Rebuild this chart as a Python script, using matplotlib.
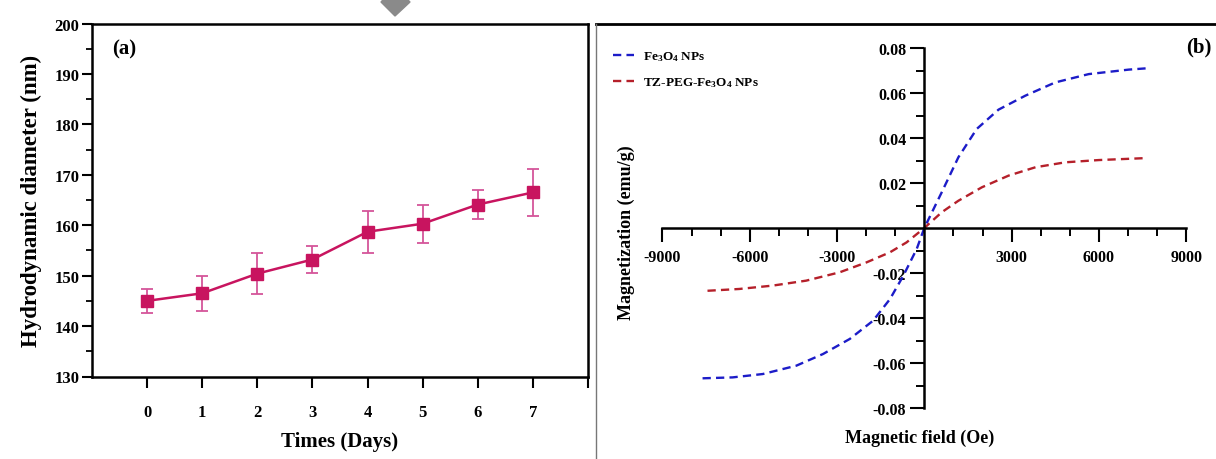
import matplotlib
matplotlib.use("Agg")
import matplotlib.pyplot as plt
from matplotlib.patches import Polygon
from matplotlib.lines import Line2D
from matplotlib.ticker import FixedLocator, NullFormatter

plt.rcParams['font.family'] = ['Liberation Serif', 'DejaVu Serif']
plt.rcParams['font.weight'] = 'bold'
plt.rcParams['mathtext.fontset'] = 'custom'
plt.rcParams['mathtext.rm'] = 'Liberation Serif:bold'
plt.rcParams['mathtext.default'] = 'rm'

# (a) hydrodynamic diameter over time
days = [0, 1, 2, 3, 4, 5, 6, 7]
diameter = [145.0, 146.5, 150.4, 153.2, 158.7, 160.3, 164.1, 166.5]
diameter_err = [2.4, 3.5, 4.1, 2.7, 4.2, 3.8, 2.8, 4.7]

# (b) magnetization curves
field_fe = [-7620, -6590, -5550, -4400, -3480, -2560, -1760, -1180, -720, -260,
            0, 600, 1170, 1800, 2550, 3470, 4500, 5650, 7030, 7670]
mag_fe = [-0.0668, -0.0664, -0.0649, -0.0612, -0.0560, -0.0493, -0.0412, -0.0316,
          -0.0212, -0.0093, 0.0, 0.0159, 0.0314, 0.0440, 0.0526, 0.0588, 0.0647,
          0.0684, 0.0704, 0.0710]
field_tz = [-7450, -6360, -5210, -4060, -2910, -1990, -1180, -610,
            0, 600, 1170, 1980, 2900, 3820, 4850, 6000, 7670]
mag_tz = [-0.0279, -0.0271, -0.0256, -0.0234, -0.0197, -0.0153, -0.0108, -0.0064,
          0.0, 0.0070, 0.0121, 0.0181, 0.0233, 0.0270, 0.0292, 0.0302, 0.0311]

W, H = 1216, 460
fig = plt.figure(figsize=(W / 100, H / 100), dpi=100)


def px(x0, y0, x1, y1):
    # pixel box -> figure rect
    return [x0 / W, 1 - y1 / H, (x1 - x0) / W, (y1 - y0) / H]


# ---- panel (a)
ax1 = fig.add_axes(px(92, 24.5, 588, 377.5))
pink = '#c8145f'
ax1.errorbar(days, diameter, yerr=diameter_err, color=pink, lw=1.8,
             marker='s', ms=8, mfc=pink, mec=pink,
             ecolor='#d4559a', elinewidth=1.3, capsize=4.5, capthick=1.3)
ax1.set_xlim(-1, 8)
ax1.set_ylim(130, 200)
ax1.set_xticks(range(0, 9))
ax1.set_xticklabels([str(d) for d in days] + [''])
ax1.set_yticks(range(130, 201, 10))
ax1.yaxis.set_minor_locator(FixedLocator(range(135, 200, 10)))
for s in ax1.spines.values():
    s.set_linewidth(1.8)
ax1.tick_params(axis='x', length=8, width=1.5, pad=12, labelsize=12)
ax1.tick_params(axis='y', length=7, width=1.5, pad=2, labelsize=12)
ax1.tick_params(axis='y', which='minor', length=4, width=1.3)
ax1.set_xlabel('Times (Days)', fontsize=15, fontweight='bold', labelpad=8)
ax1.set_ylabel('Hydrodynamic diameter (nm)', fontsize=16.5, fontweight='bold', labelpad=9)
ax1.text(0.04, 0.93, '(a)', transform=ax1.transAxes, fontsize=15,
         fontweight='bold', va='center', ha='left')

# ---- panel (b)
ax2 = fig.add_axes(px(633.3, 26.5, 1215.3, 431.5))
ax2.patch.set_alpha(0)
ax2.plot(field_fe, mag_fe, color='#1c1cc8', lw=1.7, dashes=(3.5, 2.2),
         label=r'Fe$_{3}$O$_{4}$ NPs')
ax2.plot(field_tz, mag_tz, color='#b5202a', lw=1.7, dashes=(3.5, 2.2),
         label=r'TZ-PEG-Fe$_{3}$O$_{4}$ NPs')
ax2.set_xlim(-10000, 10000)
ax2.set_ylim(-0.09, 0.09)
for side in ('top', 'right'):
    ax2.spines[side].set_visible(False)
ax2.spines['left'].set_position(('data', 0))
ax2.spines['bottom'].set_position(('data', 0))
ax2.spines['left'].set_bounds(-0.08, 0.08)
ax2.spines['bottom'].set_bounds(-9000, 9000)
for side in ('left', 'bottom'):
    ax2.spines[side].set_linewidth(1.8)
ax2.xaxis.set_major_locator(FixedLocator([-9000, -6000, -3000, 3000, 6000, 9000]))
ax2.xaxis.set_minor_locator(FixedLocator([-8000, -7000, -5000, -4000, -2000, -1000,
                                          1000, 2000, 4000, 5000, 7000, 8000]))
ax2.yaxis.set_major_locator(FixedLocator([-0.08, -0.06, -0.04, -0.02,
                                          0.02, 0.04, 0.06, 0.08]))
ax2.yaxis.set_minor_locator(FixedLocator([-0.07, -0.05, -0.03, -0.01,
                                          0.01, 0.03, 0.05, 0.07]))
ax2.set_xticklabels(['-9000', '-6000', '-3000', '3000', '6000', '9000'])
ax2.set_yticklabels(['-0.08', '-0.06', '-0.04', '-0.02', '0.02', '0.04', '0.06', '0.08'])
ax2.xaxis.set_minor_formatter(NullFormatter())
ax2.tick_params(axis='both', which='major', length=10, width=1.5, labelsize=11.5)
ax2.tick_params(axis='x', which='major', pad=5)
ax2.tick_params(axis='y', which='major', pad=3)
ax2.tick_params(axis='both', which='minor', length=6, width=1.4)
ax2.legend(loc='upper left', bbox_to_anchor=(606 / W, 1 - 44 / H),
           bbox_transform=fig.transFigure, frameon=False, fontsize=9.5,
           handlelength=1.6, handletextpad=0.7, labelspacing=0.9, borderpad=0)

fig.text(626 / W, 1 - 233 / H, 'Magnetization (emu/g)', rotation=90,
         fontsize=13, fontweight='bold', ha='center', va='center')
fig.text(920 / W, 1 - 438 / H, 'Magnetic field (Oe)', fontsize=13,
         fontweight='bold', ha='center', va='center')
fig.text(1186 / W, 1 - 47 / H, '(b)', fontsize=15, fontweight='bold',
         ha='left', va='center')

# frame around panel (b) and the grey marker at the top
fig.lines.append(Line2D([596 / W, 1], [1 - 24.5 / H] * 2, color='black', lw=2,
                        transform=fig.transFigure))
fig.lines.append(Line2D([596 / W] * 2, [0, 1 - 24.5 / H], color='#777777', lw=1,
                        transform=fig.transFigure))
fig.patches.append(Polygon([(381 / W, 1 - 3 / H), (395 / W, 1 - 17 / H),
                            (410 / W, 1 - 3 / H), (395 / W, 1 + 12 / H)],
                           closed=True, color='#8a8a8a', transform=fig.transFigure))

fig.savefig('out.png', dpi=100)
